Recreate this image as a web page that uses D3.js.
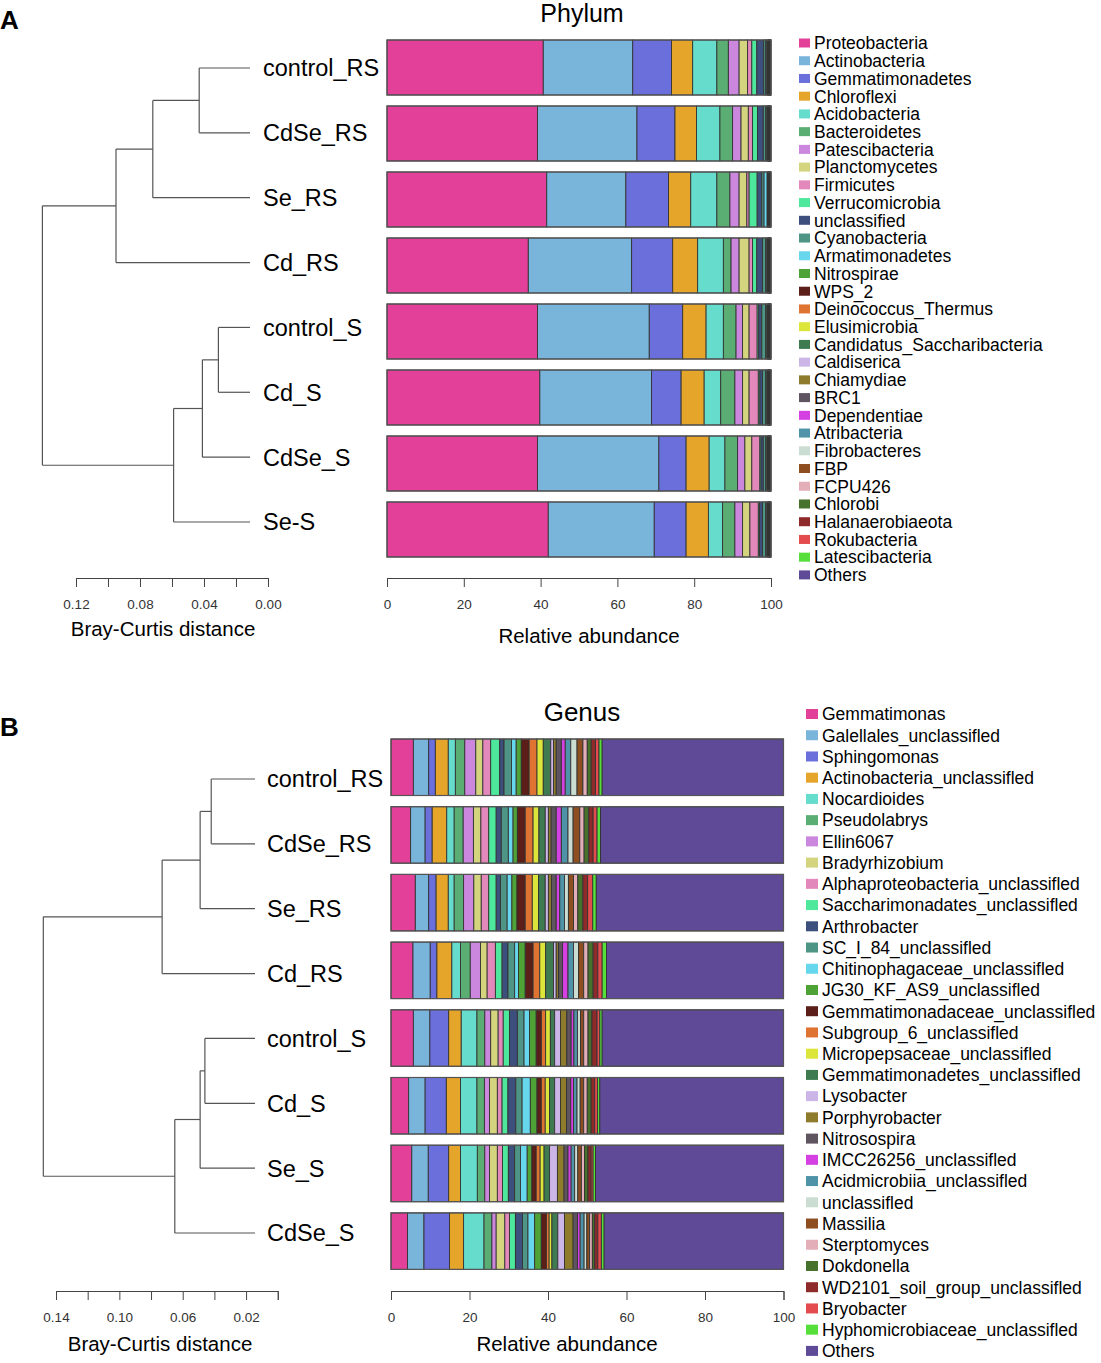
<!DOCTYPE html>
<html><head><meta charset="utf-8">
<script src="https://cdn.jsdelivr.net/npm/d3@7"></script>
<style>
body{margin:0;background:#fff}
svg{display:block}
text{font-family:"Liberation Sans",Arial,Helvetica,sans-serif}
</style>
</head><body>
<svg id="chart" width="1101" height="1363"></svg>
<script>
// ---------------- DATA ----------------
const samplesA = ["control_RS","CdSe_RS","Se_RS","Cd_RS","control_S","Cd_S","CdSe_S","Se-S"];
const samplesB = ["control_RS","CdSe_RS","Se_RS","Cd_RS","control_S","Cd_S","Se_S","CdSe_S"];

const phylumNames = ["Proteobacteria","Actinobacteria","Gemmatimonadetes","Chloroflexi","Acidobacteria","Bacteroidetes","Patescibacteria","Planctomycetes","Firmicutes","Verrucomicrobia","unclassified","Cyanobacteria","Armatimonadetes","Nitrospirae","WPS_2","Deinococcus_Thermus","Elusimicrobia","Candidatus_Saccharibacteria","Caldiserica","Chiamydiae","BRC1","Dependentiae","Atribacteria","Fibrobacteres","FBP","FCPU426","Chlorobi","Halanaerobiaeota","Rokubacteria","Latescibacteria","Others"];

const phylum_control_RS = [40.7,23.3,10.1,5.5,6.3,3.0,2.8,2.2,1.1,1.3,1.8,0.5,0.3,0.2,0.1,0.08,0.06,0.05,0.04,0.06,0.03,0.05,0.04,0.05,0.06,0.04,0.05,0.06,0.04,0.04,0.05];
const phylum_CdSe_RS    = [39.2,25.9,9.9,5.6,6.1,3.3,2.2,1.9,1.1,1.3,1.5,0.6,0.3,0.2,0.1,0.08,0.06,0.05,0.04,0.06,0.03,0.05,0.04,0.05,0.06,0.04,0.05,0.06,0.04,0.04,0.05];
const phylum_Se_RS      = [41.6,20.6,11.1,5.8,6.8,3.4,2.4,2.0,0.6,2.1,1.2,0.6,0.8,0.1,0.1,0.08,0.06,0.05,0.04,0.06,0.03,0.05,0.04,0.05,0.06,0.04,0.05,0.06,0.04,0.04,0.05];
const phylum_Cd_RS      = [36.8,26.9,10.7,6.5,6.7,2.0,2.1,2.6,0.9,1.1,1.5,0.8,0.3,0.2,0.1,0.08,0.06,0.05,0.04,0.06,0.03,0.05,0.04,0.05,0.06,0.04,0.05,0.06,0.04,0.04,0.05];
const phylum_control_S  = [39.2,29.1,8.7,6.1,4.5,3.3,1.7,1.7,2.1,0.4,0.8,1.0,0.3,0.2,0.1,0.08,0.06,0.05,0.04,0.06,0.03,0.05,0.04,0.05,0.06,0.04,0.05,0.06,0.04,0.04,0.05];
const phylum_Cd_S       = [39.8,29.1,7.7,6.0,4.3,3.7,2.0,1.7,2.4,0.4,0.7,0.8,0.3,0.2,0.1,0.08,0.06,0.05,0.04,0.06,0.03,0.05,0.04,0.05,0.06,0.04,0.05,0.06,0.04,0.04,0.05];
const phylum_CdSe_S     = [39.2,31.6,7.1,6.0,4.1,3.3,1.9,1.8,2.1,0.3,0.6,0.6,0.3,0.2,0.1,0.08,0.06,0.05,0.04,0.06,0.03,0.05,0.04,0.05,0.06,0.04,0.05,0.06,0.04,0.04,0.05];
const phylum_Se_S       = [42.0,27.6,8.3,5.8,3.7,3.2,2.0,1.9,2.2,0.3,0.8,0.8,0.3,0.2,0.1,0.08,0.06,0.05,0.04,0.06,0.03,0.05,0.04,0.05,0.06,0.04,0.05,0.06,0.04,0.04,0.05];

const genusNames = ["Gemmatimonas","Galellales_unclassifled","Sphingomonas","Actinobacteria_unclassifled","Nocardioides","Pseudolabrys","Ellin6067","Bradyrhizobium","Alphaproteobacteria_unclassifled","Saccharimonadates_unclassifled","Arthrobacter","SC_I_84_unclassifled","Chitinophagaceae_unclassifled","JG30_KF_AS9_unclassifled","Gemmatimonadaceae_unclassifled","Subgroup_6_unclassifled","Micropepsaceae_unclassifled","Gemmatimonadetes_unclassifled","Lysobacter","Porphyrobacter","Nitrosospira","IMCC26256_unclassifled","Acidmicrobiia_unclassifled","unclassifled","Massilia","Sterptomyces","Dokdonella","WD2101_soil_group_unclassifled","Bryobacter","Hyphomicrobiaceae_unclassifled","Others"];

const genus_control_RS = [5.7,3.9,1.7,3.3,1.8,2.4,2.8,1.8,2.0,2.3,1.1,1.9,1.2,1.3,2.0,2.0,1.6,1.9,0.7,0.7,1.3,1.0,1.4,1.6,1.5,1.1,1.0,1.1,0.9,0.8,46.2];
const genus_CdSe_RS    = [5.0,3.7,1.8,3.7,1.9,2.3,2.6,1.9,2.0,1.9,1.3,1.8,1.2,1.1,2.0,2.0,1.5,1.6,0.8,0.7,1.3,1.3,1.7,1.3,1.7,1.1,1.2,1.1,1.0,0.9,46.6];
const genus_Se_RS      = [6.2,3.4,1.9,3.1,1.5,2.4,2.6,1.9,1.9,1.9,1.1,1.7,1.2,1.3,2.1,1.8,1.6,1.7,0.8,0.8,1.2,0.9,1.2,1.0,1.3,1.1,1.3,1.2,1.3,0.9,47.7];
const genus_Cd_RS      = [5.6,4.4,1.7,3.8,2.2,2.5,2.6,1.7,2.1,1.7,1.5,1.7,1.0,1.7,2.0,1.7,1.5,2.0,0.7,0.6,1.0,1.4,1.4,1.3,1.3,1.1,1.3,1.2,1.1,1.1,45.1];
const genus_control_S  = [5.7,4.2,4.8,3.2,4.0,2.0,1.5,1.9,1.3,1.6,2.0,1.7,1.4,1.7,1.3,1.1,1.2,1.1,1.5,1.6,1.1,0.7,0.9,0.8,0.8,1.1,1.0,1.3,0.7,0.6,46.2];
const genus_Cd_S       = [4.5,4.2,5.4,3.6,4.2,1.9,1.3,2.0,1.2,1.5,2.0,1.6,2.1,1.7,1.1,1.0,1.1,1.3,1.5,1.5,1.1,0.7,0.9,0.8,0.9,0.9,1.0,0.9,0.7,0.6,46.8];
const genus_Se_S       = [5.3,4.2,5.2,3.0,4.3,1.9,1.2,2.0,1.3,1.5,1.6,1.5,1.7,1.2,1.1,1.0,1.0,1.4,2.0,1.7,1.0,0.8,0.9,0.8,0.9,0.8,0.9,0.8,0.5,0.6,47.9];
const genus_CdSe_S     = [4.2,4.2,6.5,3.6,5.2,2.0,1.1,2.2,1.2,1.5,1.8,1.4,1.7,1.7,1.3,0.7,0.7,1.5,1.7,2.2,1.1,0.7,1.0,0.7,0.7,0.7,0.6,0.8,0.9,0.7,45.7];

const palette = ["#E3409A","#79B4DB","#6A6FDC","#E5A52A","#66DDCC","#5AAE74","#CB86DD","#D5D47E","#E388BA","#4DE89B","#3D4F7D","#4F9585","#67D7EE","#4FA235","#5B1E18","#DF7432","#DCE53A","#3E7B51","#CCB5E7","#8E7B2B","#5F5560","#D540E2","#4F93A8","#CBDDD3","#8E4E1F","#E3AEB7","#47722B","#8F2A2B","#E34B4E","#56DE3A","#5F4A97"];

// hclust-style dendrograms (negative = leaf index, positive = earlier merge)
const dendroA_merge  = [[-1,-2],[1,-3],[2,-4],[-5,-6],[4,-7],[5,-8],[3,6]];
const dendroA_height = [0.043,0.072,0.095,0.031,0.041,0.059,0.141];
const dendroB_merge  = [[-1,-2],[1,-3],[2,-4],[-5,-6],[4,-7],[5,-8],[3,6]];
const dendroB_height = [0.042,0.049,0.073,0.046,0.049,0.065,0.148];

const barTicks = [0,20,40,60,80,100];
const distTicksA = [0.12,0.10,0.08,0.06,0.04,0.02,0.00];
const distLabelsA = [0.12,0.08,0.04,0.00];
const distTicksB = [0.14,0.12,0.10,0.08,0.06,0.04,0.02,0.00];
const distLabelsB = [0.14,0.10,0.06,0.02];

// ---------------- DRAW ----------------
const svg = d3.select("#chart");
svg.append("rect").attr("width",1101).attr("height",1363).attr("fill","#fff");

function drawPanel(cfg){
  const g = svg.append("g");
  g.append("text").attr("x",cfg.letterX).attr("y",cfg.letterY).attr("font-size",26).attr("font-weight","bold").text(cfg.letter);
  g.append("text").attr("x",cfg.titleX).attr("y",cfg.titleY).attr("text-anchor","middle").attr("font-size",cfg.titleSize).text(cfg.title);

  // bars
  const x = d3.scaleLinear().domain([0,100]).range(cfg.xRange);
  const y = d3.scaleBand().domain(cfg.samples).range(cfg.yRange).paddingInner(cfg.padIn).paddingOuter(cfg.padIn/2);
  const table = cfg.samples.map((s,i)=>{
    const o = {sample:s};
    cfg.names.forEach((n,j)=>o[n]=cfg.rows[i][j]);
    return o;
  });
  const series = d3.stack().keys(cfg.names)(table);
  const color = d3.scaleOrdinal().domain(cfg.names).range(palette);
  g.append("g").selectAll("g").data(series).join("g")
    .attr("fill",d=>color(d.key))
    .selectAll("rect").data(d=>d).join("rect")
    .attr("x",d=>x(d[0])).attr("width",d=>Math.max(0,x(d[1])-x(d[0])))
    .attr("y",d=>y(d.data.sample)).attr("height",y.bandwidth())
    .attr("stroke","#333").attr("stroke-width",0.9);
  g.append("g").selectAll("rect").data(cfg.samples).join("rect")
    .attr("x",x(0)).attr("width",x(100)-x(0))
    .attr("y",d=>y(d)).attr("height",y.bandwidth())
    .attr("fill","none").attr("stroke","#555").attr("stroke-width",1.2);

  // bar axis
  const axB = g.append("g").attr("transform",`translate(0,${cfg.axisY})`)
    .call(d3.axisBottom(x).tickValues(barTicks).tickSize(9).tickPadding(12).tickFormat(d3.format("d")));
  axB.select(".domain").attr("stroke","#444");
  axB.selectAll(".tick line").attr("stroke","#444");
  axB.selectAll("text").attr("font-size",13.5).attr("fill","#333").attr("font-family","Liberation Sans, Arial");
  g.append("text").attr("x",cfg.xTitleX).attr("y",cfg.xTitleY).attr("text-anchor","middle").attr("font-size",20.5).text("Relative abundance");

  // dendrogram
  const dx = d3.scaleLinear().domain(cfg.distDomain).range(cfg.distRange);
  const ly = d3.scalePoint().domain(cfg.samples).range(cfg.leafYRange);
  const nodes = [];
  function pos(id){
    if(id<0) return {x:cfg.leafEndX, y:ly(cfg.samples[-id-1])};
    return nodes[id-1];
  }
  const lines = [];
  cfg.merge.forEach((m,k)=>{
    const a = pos(m[0]), b = pos(m[1]);
    const nx = dx(cfg.heights[k]);
    nodes.push({x:nx, y:(a.y+b.y)/2});
    lines.push([nx,a.y,nx,b.y],[nx,a.y,a.x,a.y],[nx,b.y,b.x,b.y]);
  });
  g.append("g").selectAll("line").data(lines).join("line")
    .attr("x1",d=>d[0]).attr("y1",d=>d[1]).attr("x2",d=>d[2]).attr("y2",d=>d[3])
    .attr("stroke","#555").attr("stroke-width",1.2);
  g.append("g").selectAll("text").data(cfg.samples).join("text")
    .attr("x",cfg.leafLabelX).attr("y",d=>ly(d)).attr("dy","0.36em")
    .attr("font-size",23.5).text(d=>d);

  // dendrogram axis
  const axD = g.append("g").attr("transform",`translate(0,${cfg.axisY})`)
    .call(d3.axisBottom(dx).tickValues(cfg.distTicks).tickSize(9).tickPadding(12)
      .tickFormat(d=>cfg.distLabels.some(v=>Math.abs(v-d)<1e-9)?d3.format(".2f")(d):""));
  axD.select(".domain").attr("stroke","#444");
  axD.selectAll(".tick line").attr("stroke","#444");
  axD.selectAll("text").attr("font-size",13.5).attr("fill","#333").attr("font-family","Liberation Sans, Arial");
  g.append("text").attr("x",cfg.dTitleX).attr("y",cfg.dTitleY).attr("text-anchor","middle").attr("font-size",20.5).text("Bray-Curtis distance");

  // legend
  const lg = g.append("g").selectAll("g").data(cfg.names).join("g")
    .attr("transform",(d,i)=>`translate(${cfg.legX},${cfg.legY0 + i*cfg.legStep})`);
  lg.append("rect").attr("x",0).attr("y",-cfg.swH/2).attr("width",cfg.swW).attr("height",cfg.swH).attr("fill",d=>color(d));
  lg.append("text").attr("x",cfg.swW+4).attr("y",0).attr("dy","0.36em").attr("font-size",cfg.legSize).text(d=>d);
}

drawPanel({
  letter:"A", letterX:0, letterY:29, title:"Phylum", titleX:582, titleY:22, titleSize:25,
  samples:samplesA, names:phylumNames,
  rows:[phylum_control_RS,phylum_CdSe_RS,phylum_Se_RS,phylum_Cd_RS,phylum_control_S,phylum_Cd_S,phylum_CdSe_S,phylum_Se_S],
  xRange:[387,771], yRange:[34.5,562.5], padIn:11/66, axisY:578,
  xTitleX:589, xTitleY:643, dTitleX:163, dTitleY:636,
  distDomain:[0.12,0], distRange:[76,268], distTicks:distTicksA, distLabels:distLabelsA,
  merge:dendroA_merge, heights:dendroA_height, leafYRange:[68,522], leafEndX:250, leafLabelX:263,
  legX:799, legY0:43, legStep:17.73, swW:11, swH:9, legSize:17.5
});

drawPanel({
  letter:"B", letterX:0, letterY:736, title:"Genus", titleX:582, titleY:721, titleSize:26,
  samples:samplesB, names:genusNames,
  rows:[genus_control_RS,genus_CdSe_RS,genus_Se_RS,genus_Cd_RS,genus_control_S,genus_Cd_S,genus_Se_S,genus_CdSe_S],
  xRange:[391,783.5], yRange:[733.4,1275], padIn:11.2/67.7, axisY:1291,
  xTitleX:567, xTitleY:1351, dTitleX:160, dTitleY:1351,
  distDomain:[0.14,0], distRange:[56,277.75], distTicks:distTicksB, distLabels:distLabelsB,
  merge:dendroB_merge, heights:dendroB_height, leafYRange:[779,1233], leafEndX:255, leafLabelX:267,
  legX:806, legY0:714, legStep:21.23, swW:12, swH:10, legSize:17.5
});
</script>
</body></html>
